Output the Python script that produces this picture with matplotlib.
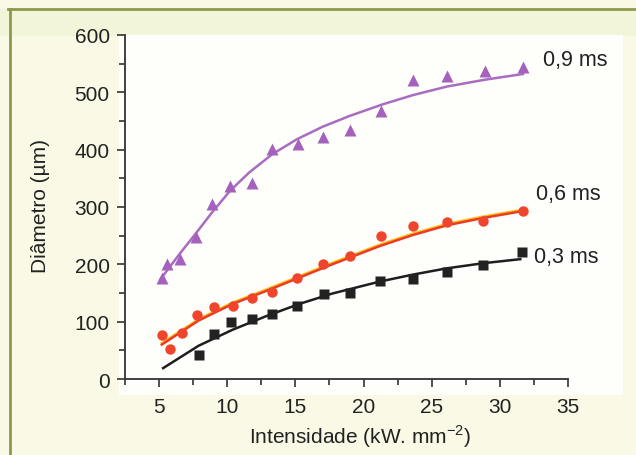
import matplotlib.pyplot as plt
import matplotlib.patheffects as pe
from matplotlib.patches import Rectangle
from matplotlib.lines import Line2D


plt.rcParams["font.family"] = ["Liberation Sans", "DejaVu Sans"]
plt.rcParams["mathtext.fontset"] = "custom"
plt.rcParams["mathtext.rm"] = "Liberation Sans"


# 0,9 ms (triangles)
x_09 = [5.2, 5.6, 6.5, 7.7, 8.9, 10.2, 11.8, 13.3, 15.2, 17.0, 19.0, 21.3, 23.6, 26.1, 28.9, 31.7]
y_09 = [177, 201, 209, 247, 305, 336, 342, 402, 410, 422, 435, 468, 521, 528, 538, 545]

fit_x_09 = [5.1, 6.5, 7.7, 8.9, 10.2, 11.6, 13.3, 15.1, 17.0, 19.0, 21.4, 23.6, 26.1, 28.9, 31.7]
fit_y_09 = [174, 218, 254, 291, 328, 360, 392, 418, 440, 459, 479, 495, 510, 522, 532]

# 0,6 ms (circles)
x_06 = [5.2, 5.8, 6.7, 7.8, 9.0, 10.4, 11.8, 13.3, 15.1, 17.0, 19.0, 21.3, 23.6, 26.1, 28.8, 31.7]
y_06 = [76, 52, 81, 112, 125, 128, 142, 152, 177, 201, 214, 249, 266, 273, 275, 293]

fit_x_06 = [5.2, 7.9, 10.4, 12.9, 15.3, 17.7, 21.2, 23.6, 26.1, 28.8, 31.7]
fit_y_06 = [60, 102, 131, 154, 177, 200, 232, 251, 268, 281, 293]

# 0,3 ms (squares)
x_03 = [7.9, 9.0, 10.3, 11.8, 13.3, 15.1, 17.1, 19.0, 21.2, 23.6, 26.1, 28.8, 31.6]
y_03 = [42, 78, 100, 104, 113, 128, 148, 150, 171, 174, 187, 199, 221]

fit_x_03 = [5.3, 7.9, 10.4, 12.9, 15.3, 17.7, 21.2, 23.6, 26.1, 28.8, 31.5]
fit_y_03 = [19, 58, 86, 110, 131, 149, 170, 182, 193, 202, 209]

labels = ["0,9 ms", "0,6 ms", "0,3 ms"]
label_pos = [(33.2, 558), (32.65, 323), (32.5, 213)]


fig = plt.figure(figsize=(6.36, 4.56), dpi=100)
fig.patch.set_facecolor("#f9f9e6")

# scanned page look: tinted band on top, white panel behind the plot
fig.patches.append(Rectangle((0, 1 - 36 / 456), 1, 26 / 456,
                             transform=fig.transFigure, color="#f3f5d9", zorder=-2))
fig.patches.append(Rectangle((119 / 636, 1 - 395 / 456), 503 / 636, 359 / 456,
                             transform=fig.transFigure, color="#fefefb", zorder=-1))
fig.lines.append(Line2D([8 / 636, 1], [1 - 10 / 456, 1 - 10 / 456],
                        transform=fig.transFigure, color="#8d9a4c", lw=2))
fig.lines.append(Line2D([10 / 636, 10 / 636], [0, 1 - 10 / 456],
                        transform=fig.transFigure, color="#8d9a4c", lw=2))

ax = fig.add_axes([125 / 636, 1 - 380 / 456, 443 / 636, 344 / 456])
ax.set_facecolor("none")

ax.plot(fit_x_09, fit_y_09, color="#a86cc1", lw=1.8)
ax.plot(x_09, y_09, "^", color="#a462bd", ms=8, mec="none")

ax.plot(fit_x_06, fit_y_06, color="#ee3a24", lw=1.8,
        path_effects=[pe.SimpleLineShadow(offset=(0, 1.0), shadow_color="#f7c21c", alpha=1),
                      pe.Normal()])
ax.plot(x_06, y_06, "o", color="#f0452d", ms=7.5, mec="none")

ax.plot(fit_x_03, fit_y_03, color="#1e1e1e", lw=1.8)
ax.plot(x_03, y_03, "s", color="#222222", ms=6.5, mec="none")

for text, (tx, ty) in zip(labels, label_pos):
    ax.text(tx, ty, text, fontsize=15.5, color="#222222",
            ha="left", va="center", clip_on=False)

ax.set_xlim(2.5, 35)
ax.set_ylim(0, 600)

ax.set_xticks([5, 10, 15, 20, 25, 30, 35])
ax.set_xticks([2.5, 7.5, 12.5, 17.5, 22.5, 27.5, 32.5], minor=True)
ax.set_yticks([0, 100, 200, 300, 400, 500, 600])
ax.set_yticks([50, 150, 250, 350, 450, 550], minor=True)

ax.spines["top"].set_visible(False)
ax.spines["right"].set_visible(False)
for side in ["left", "bottom"]:
    ax.spines[side].set_color("#333333")
    ax.spines[side].set_linewidth(1.3)

ax.tick_params(which="major", direction="out", length=6, width=1.2,
               color="#333333", labelsize=15, labelcolor="#222222")
ax.tick_params(which="minor", direction="out", length=4, width=1.2, color="#333333")
ax.tick_params(axis="x", which="major", pad=7)
ax.tick_params(axis="y", which="major", pad=5)

fig.text(360 / 636, 1 - 437 / 456, r"Intensidade (kW. mm$^{-2}$)",
         fontsize=15, color="#222222", ha="center", va="center")
fig.text(40 / 636, 1 - 206 / 456, "Diâmetro (µm)", rotation=90,
         fontsize=15, color="#222222", ha="center", va="center")

plt.savefig("out.png", dpi=100, facecolor=fig.get_facecolor())

plt.close()
